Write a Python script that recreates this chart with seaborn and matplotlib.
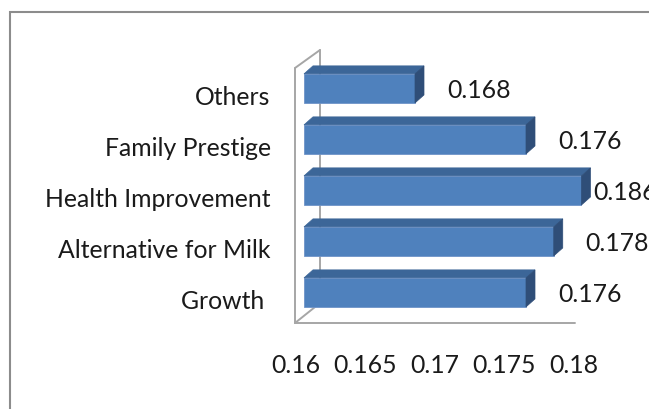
import numpy as np
import pandas as pd
import seaborn as sns
import matplotlib
matplotlib.use("Agg")
import matplotlib.pyplot as plt
from matplotlib.patches import Polygon, Rectangle
from matplotlib.lines import Line2D
from matplotlib.transforms import ScaledTranslation

categories = ["Others", "Family Prestige", "Health Improvement", "Alternative for Milk", "Growth "]
values = [0.168, 0.176, 0.186, 0.178, 0.176]
label_texts = ["0.168", "0.176", "0.186", "0.178", "0.176"]
xticks = [0.16, 0.165, 0.17, 0.175, 0.18]
xtick_labels = ["0.16", "0.165", "0.17", "0.175", "0.18"]

sns.set_theme(style="white")
plt.rcParams["font.family"] = ["Lato", "DejaVu Sans"]

W, H = 649, 409
fig = plt.figure(figsize=(W / 100, H / 100), dpi=100)
fig.patch.set_facecolor("white")

FS = 17.8

# axes placed in pixel terms (front face of the 3D plot)
ax_l, ax_r, ax_t, ax_b = 304, 581.5, 68, 323
ax = fig.add_axes([ax_l / W, 1 - ax_b / H, (ax_r - ax_l) / W, (ax_b - ax_t) / H])

df = pd.DataFrame({"cat": categories, "val": values})
front = "#4F81BD"
top_c = "#3C6698"
side_c = "#2F4E78"
sns.barplot(data=df, y="cat", x="val", orient="h", color=front, saturation=1,
            width=0.57, ax=ax, zorder=3)

xmin, xmax = 0.16, 0.18
ax.set_xlim(xmin, xmax)
ax.set_ylim(4.6, -0.4)
ax.set_xlabel("")
ax.set_ylabel("")
for s in ax.spines.values():
    s.set_visible(False)
ax.set_facecolor("none")

# 3D depth offsets in pixels converted to data units
px_per_x = (ax_r - ax_l) / (xmax - xmin)
px_per_y = (ax_b - ax_t) / 5.0
ddx = 9 / px_per_x
ddy = -8 / px_per_y  # up (inverted axis)

for p in ax.patches:
    x0 = max(p.get_x(), xmin)
    x1 = min(p.get_x() + p.get_width(), xmax)
    p.set_x(x0)
    p.set_width(x1 - x0)
    p.set_edgecolor("#6F93C8")
    p.set_linewidth(0.6)
    yt = p.get_y()
    yb = p.get_y() + p.get_height()
    top = Polygon([(x0, yt), (x1, yt), (x1 + ddx, yt + ddy), (x0 + ddx, yt + ddy)],
                  closed=True, facecolor=top_c, edgecolor=top_c, lw=0.5,
                  clip_on=False, zorder=3)
    side = Polygon([(x1, yt), (x1 + ddx, yt + ddy), (x1 + ddx, yb + ddy), (x1, yb)],
                   closed=True, facecolor=side_c, edgecolor=side_c, lw=0.5,
                   clip_on=False, zorder=3)
    ax.add_patch(top)
    ax.add_patch(side)

# data labels
for i, (v, t) in enumerate(zip(values, label_texts)):
    end = min(v, xmax)
    gap = 32 if v <= xmax else 12
    ax.annotate(t, xy=(end, i), xytext=(gap, -2), textcoords="offset pixels",
                ha="left", va="center", fontsize=FS, color="#1a1a1a",
                annotation_clip=False, zorder=5)

# ticks
ax.set_xticks(xticks)
ax.set_xticklabels(xtick_labels, fontsize=FS, color="#1a1a1a")
ax.tick_params(axis="x", length=0, pad=22)
ax.tick_params(axis="y", length=0, pad=24, labelsize=FS, labelcolor="#1a1a1a")
for lab in ax.get_xticklabels():
    lab.set_transform(lab.get_transform() + ScaledTranslation(-8 / 100, 0, fig.dpi_scale_trans))
for lab in ax.get_yticklabels():
    lab.set_transform(lab.get_transform() + ScaledTranslation(0, -7 / 100, fig.dpi_scale_trans))

# 3D walls (left wall + floor front edge) in axes-fraction coordinates
wall_c = "#A6A6A6"
def axfx(px):
    return (px - ax_l) / (ax_r - ax_l)
def axfy(py):
    return (ax_b - py) / (ax_b - ax_t)
segs = [
    [(295, 68), (295, 323)],
    [(295, 323), (575, 323)],
    [(295, 68), (320, 50)],
    [(295, 323), (320, 303)],
    [(320, 50), (320, 303)],
]
for seg in segs:
    xs = [axfx(a) for a, b in seg]
    ys = [axfy(b) for a, b in seg]
    ax.add_line(Line2D(xs, ys, transform=ax.transAxes, color=wall_c, lw=1.4,
                       clip_on=False, zorder=1))

# outer chart frame
fig.add_artist(Rectangle((9.5 / W, -0.1), 1.2, 1 - 12 / H + 0.1, transform=fig.transFigure,
                         fill=False, edgecolor="#8C8C8C", lw=1.5))

fig.savefig("out.png", dpi=100)
